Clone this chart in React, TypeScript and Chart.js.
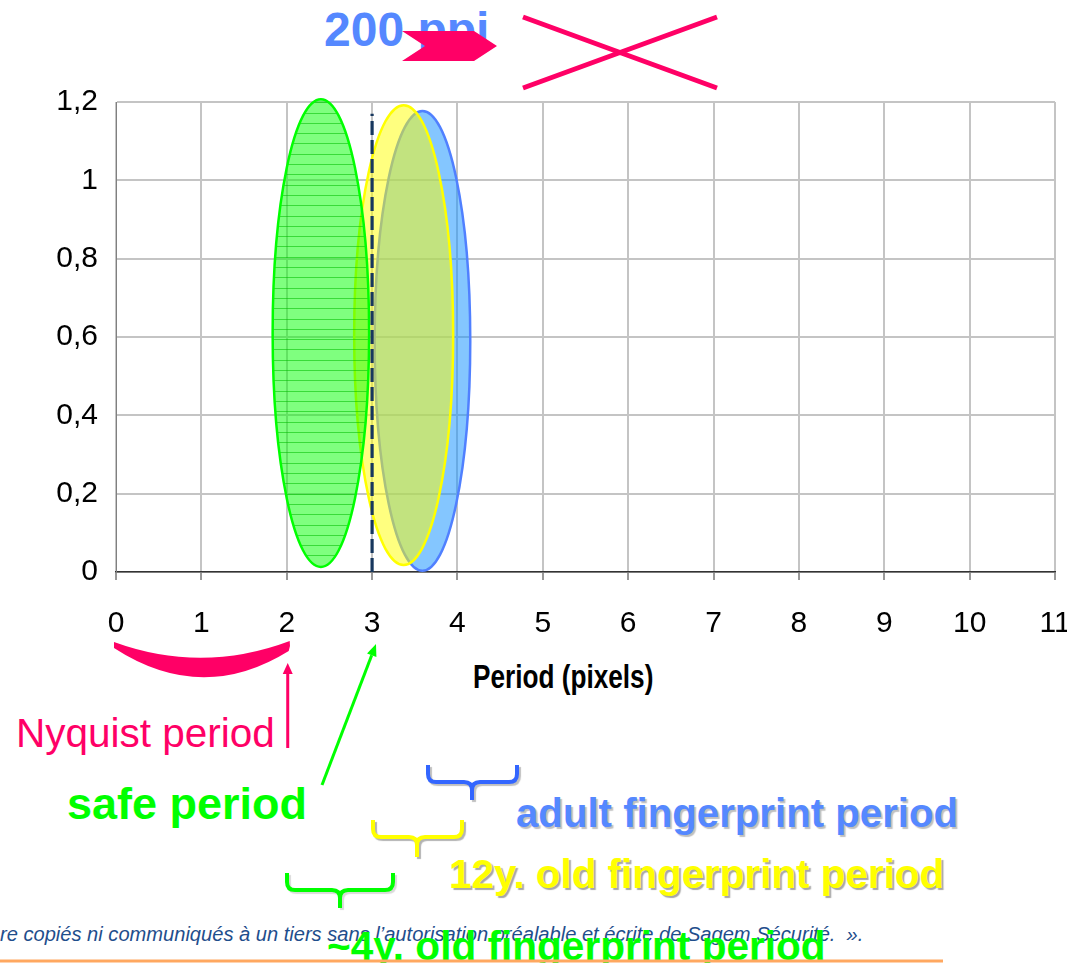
import React, { useEffect, useRef } from 'react';
import { Chart, registerables } from 'chart.js';

Chart.register(...registerables);

// ---------- data ----------
const xTickLabels = ['0', '1', '2', '3', '4', '5', '6', '7', '8', '9', '10', '11'];
const yTickLabels = ['0', '0,2', '0,4', '0,6', '0,8', '1', '1,2'];
const xMin = 0;
const xMax = 11;
const yMin = 0;
const yMax = 1.2;

// ellipses: adult, 12y. old, ~4y. old (drawn in this order)
const ellipseNames = ['adult fingerprint period', '12y. old fingerprint period', '~4y. old fingerprint period'];
const ellipseCenterX = [3.59, 3.37, 2.4];
const ellipseCenterY = [0.59, 0.605, 0.61];
const ellipseHalfWidth = [0.56, 0.58, 0.565];
const ellipseHalfHeight = [0.587, 0.587, 0.597];

// safe period dashed line
const safePeriodX = [3, 3];
const safePeriodY = [0, 1.17];
const nyquistPeriod = 2;

// ---------- styles ----------
const PINK = '#ff0066';
const GREEN = '#00ff00';
const BLUE_TEXT = '#5588ff';
const NARROW = '"Liberation Sans Narrow", "Arial Narrow", "Liberation Sans", sans-serif';
const SANS = '"Liberation Sans", Arial, sans-serif';
const ellipseStyles = [
  { fill: 'rgba(20,145,255,0.52)', stroke: '#5080ff', stripes: false },
  { fill: 'rgba(255,255,0,0.5)', stroke: '#ffff00', stripes: false },
  { fill: 'rgba(0,255,0,0.5)', stroke: '#00ff00', stripes: true },
];

const ellipsePlugin = {
  id: 'ellipses',
  beforeDatasetsDraw(chart: any) {
    const { ctx, scales } = chart;
    const x = scales.x;
    const y = scales.y;
    for (let i = 0; i < ellipseCenterX.length; i++) {
      const cx = x.getPixelForValue(ellipseCenterX[i]);
      const cy = y.getPixelForValue(ellipseCenterY[i]);
      const rx = Math.abs(x.getPixelForValue(ellipseCenterX[i] + ellipseHalfWidth[i]) - cx);
      const ry = Math.abs(y.getPixelForValue(ellipseCenterY[i] + ellipseHalfHeight[i]) - cy);
      const st = ellipseStyles[i];
      ctx.save();
      ctx.beginPath();
      ctx.ellipse(cx, cy, rx, ry, 0, 0, Math.PI * 2);
      ctx.fillStyle = st.fill;
      ctx.fill();
      if (st.stripes) {
        ctx.save();
        ctx.clip();
        ctx.strokeStyle = 'rgba(0,190,0,0.55)';
        ctx.lineWidth = 1;
        for (let yy = cy - ry + 3; yy < cy + ry; yy += 10.3) {
          ctx.beginPath();
          ctx.moveTo(cx - rx, Math.round(yy) + 0.5);
          ctx.lineTo(cx + rx, Math.round(yy) + 0.5);
          ctx.stroke();
        }
        ctx.restore();
        ctx.beginPath();
        ctx.ellipse(cx, cy, rx, ry, 0, 0, Math.PI * 2);
      }
      ctx.lineWidth = 2.5;
      ctx.strokeStyle = st.stroke;
      ctx.stroke();
      ctx.restore();
    }
  },
};

function arrow(ctx: any, x1: number, y1: number, x2: number, y2: number, color: string, lw: number, headLen: number, headHalf: number) {
  const dx = x2 - x1;
  const dy = y2 - y1;
  const L = Math.hypot(dx, dy);
  const ux = dx / L;
  const uy = dy / L;
  const bx = x2 - ux * headLen;
  const by = y2 - uy * headLen;
  ctx.strokeStyle = color;
  ctx.lineWidth = lw;
  ctx.beginPath();
  ctx.moveTo(x1, y1);
  ctx.lineTo(bx, by);
  ctx.stroke();
  ctx.fillStyle = color;
  ctx.beginPath();
  ctx.moveTo(x2, y2);
  ctx.lineTo(bx - uy * headHalf, by + ux * headHalf);
  ctx.lineTo(bx + uy * headHalf, by - ux * headHalf);
  ctx.closePath();
  ctx.fill();
}

function brace(ctx: any, xl: number, xr: number, xc: number, yTop: number, yMid: number, yTip: number, color: string, lw: number, shadow: string | null) {
  const r = 8;
  ctx.save();
  if (shadow) {
    ctx.shadowColor = shadow;
    ctx.shadowOffsetX = 2;
    ctx.shadowOffsetY = 2;
    ctx.shadowBlur = 1;
  }
  ctx.strokeStyle = color;
  ctx.lineWidth = lw;
  ctx.lineJoin = 'round';
  ctx.lineCap = 'butt';
  ctx.beginPath();
  ctx.moveTo(xl, yTop);
  ctx.lineTo(xl, yMid - r);
  ctx.quadraticCurveTo(xl, yMid, xl + r, yMid);
  ctx.lineTo(xc - r, yMid);
  ctx.quadraticCurveTo(xc, yMid, xc, yMid + r);
  ctx.lineTo(xc, yTip);
  ctx.moveTo(xr, yTop);
  ctx.lineTo(xr, yMid - r);
  ctx.quadraticCurveTo(xr, yMid, xr - r, yMid);
  ctx.lineTo(xc + r, yMid);
  ctx.quadraticCurveTo(xc, yMid, xc, yMid + r);
  ctx.stroke();
  ctx.restore();
}

const annotationPlugin = {
  id: 'annotations',
  afterDraw(chart: any) {
    const { ctx, scales } = chart;
    const x = scales.x;
    ctx.save();
    // pink cross
    ctx.strokeStyle = PINK;
    ctx.lineWidth = 5;
    ctx.beginPath();
    ctx.moveTo(523, 17);
    ctx.lineTo(717, 88);
    ctx.moveTo(523, 88);
    ctx.lineTo(717, 17);
    ctx.stroke();
    // notched arrow
    ctx.fillStyle = PINK;
    ctx.beginPath();
    ctx.moveTo(402, 31);
    ctx.lineTo(474, 31);
    ctx.lineTo(497, 46);
    ctx.lineTo(474, 61);
    ctx.lineTo(402, 61);
    ctx.lineTo(425, 46);
    ctx.closePath();
    ctx.fill();
    // nyquist crescent
    const a = x.getPixelForValue(0) - 2;
    const b = x.getPixelForValue(nyquistPeriod) + 3;
    const m = (a + b) / 2;
    ctx.beginPath();
    ctx.moveTo(a, 642);
    ctx.quadraticCurveTo(m, 674, b, 641);
    ctx.quadraticCurveTo(b + 1, 646, b - 1, 651);
    ctx.quadraticCurveTo(m, 705, a, 648);
    ctx.closePath();
    ctx.fill();
    // arrows
    arrow(ctx, b - 2, 748, b - 2, 663, PINK, 3, 11, 5);
    arrow(ctx, 322, 785, 376, 644, GREEN, 3, 12, 5);
    // braces
    brace(ctx, 428, 517, 472, 765, 782, 800, '#3366ff', 4, 'rgba(0,0,0,0.25)');
    brace(ctx, 373, 462, 417, 820, 837, 857, '#ffff00', 4, 'rgba(0,0,0,0.3)');
    brace(ctx, 287, 393, 340, 873, 890, 908, '#00ff00', 4, 'rgba(0,0,0,0.15)');
    // orange footer line
    ctx.fillStyle = 'rgb(255,168,96)';
    ctx.fillRect(0, 959.5, 943, 3);
    ctx.restore();
  },
};

function Label(props: any) {
  const { x, baseline, size, weight, color, family, italic, shadow, scaleX, children } = props;
  return (
    <div
      style={{
        position: 'absolute',
        left: x,
        top: baseline - size * 0.8465,
        fontSize: size,
        lineHeight: `${size}px`,
        fontFamily: family || SANS,
        fontWeight: weight || 'normal',
        fontStyle: italic ? 'italic' : 'normal',
        color,
        whiteSpace: 'pre',
        textShadow: shadow || 'none',
        transform: scaleX ? `scaleX(${scaleX})` : undefined,
        transformOrigin: 'left center',
      }}
    >
      {children}
    </div>
  );
}

export default function App() {
  const canvasRef = useRef<HTMLCanvasElement | null>(null);

  useEffect(() => {
    const canvas = canvasRef.current;
    if (!canvas) return;
    const chart = new Chart(canvas, {
      type: 'scatter',
      data: {
        datasets: [
          ...ellipseNames.map((name, i) => ({
            label: name,
            data: [{ x: ellipseCenterX[i], y: ellipseCenterY[i] }],
            pointRadius: 0,
            pointHoverRadius: 0,
            showLine: false,
          })),
          {
            label: 'safe period',
            data: safePeriodX.map((v, i) => ({ x: v, y: safePeriodY[i] })),
            showLine: true,
            borderColor: '#17375e',
            borderWidth: 3.2,
            borderDash: [14, 5],
            pointRadius: 0,
            fill: false,
          },
        ],
      },
      options: {
        responsive: false,
        animation: false,
        devicePixelRatio: 1,
        events: [],
        layout: { padding: { left: 0, top: 102, right: 12, bottom: 291 } },
        plugins: {
          legend: { display: false },
          tooltip: { enabled: false },
          title: { display: false },
        },
        scales: {
          x: {
            type: 'linear',
            min: xMin,
            max: xMax,
            afterFit: (s: any) => {
              s.height = 100;
              s.paddingLeft = 0;
              s.paddingRight = 0;
            },
            ticks: {
              stepSize: 1,
              autoSkip: false,
              maxRotation: 0,
              padding: 26,
              color: '#000',
              font: { family: NARROW, size: 30 },
              callback: (v: any, i: number) => xTickLabels[i],
            },
            grid: { color: '#c4c4c4', lineWidth: 2, tickColor: '#333', tickWidth: 1, tickLength: 8, drawTicks: true },
            border: { color: '#333', width: 1.5 },
          },
          y: {
            type: 'linear',
            min: yMin,
            max: yMax,
            afterFit: (s: any) => {
              s.width = 116;
              s.paddingTop = 0;
              s.paddingBottom = 0;
            },
            ticks: {
              stepSize: 0.2,
              padding: 18,
              color: '#000',
              font: { family: NARROW, size: 30 },
              callback: (v: any, i: number) => yTickLabels[i],
            },
            grid: { color: '#c4c4c4', lineWidth: 2, drawTicks: false },
            border: { color: '#808080', width: 1 },
          },
        },
      } as any,
      plugins: [ellipsePlugin, annotationPlugin],
    });
    return () => chart.destroy();
  }, []);

  return (
    <div style={{ position: 'absolute', left: 0, top: 0, width: 1067, height: 963, overflow: 'hidden', background: '#fff' }}>
      <Label x={324} baseline={47} size={48} weight="bold" color={BLUE_TEXT}>200 ppi</Label>
      <Label x={16} baseline={747} size={40.5} color={PINK}>Nyquist period</Label>
      <Label x={67} baseline={819} size={45} weight="bold" color={GREEN}>safe period</Label>
      <Label x={473} baseline={688} size={34} weight="bold" color="#000" scaleX={0.77}>Period (pixels)</Label>
      <Label x={516} baseline={828} size={40.2} weight="bold" color={BLUE_TEXT} shadow="2px 2px 1px rgba(0,0,0,0.25)">adult fingerprint period</Label>
      <Label x={449} baseline={888} size={40.4} weight="bold" color="#ffff00" shadow="2px 2px 1px rgba(0,0,0,0.35)">12y. old fingerprint period</Label>
      <Label x={0} baseline={941} size={20.1} italic color="#1f4e8c">{'re copiés ni communiqués à un tiers sans l’autorisation préalable et écrite de Sagem Sécurité.  ».'}</Label>
      <Label x={327} baseline={960} size={40.6} weight="bold" color={GREEN}>~4y. old fingerprint period</Label>
      <canvas ref={canvasRef} width={1067} height={963} style={{ position: 'absolute', left: 0, top: 0, display: 'block' }} />
    </div>
  );
}
